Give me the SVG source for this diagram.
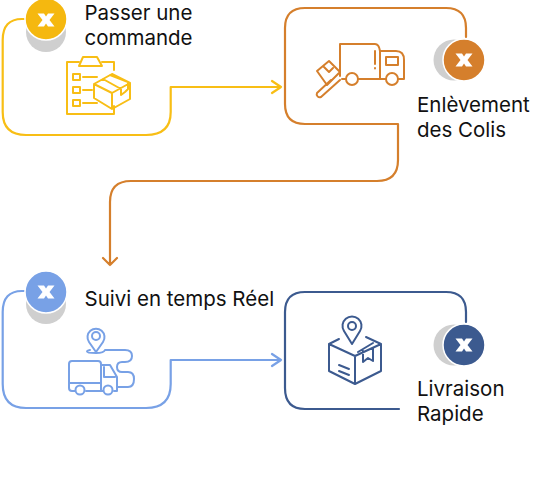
<svg xmlns="http://www.w3.org/2000/svg" width="533" height="481" viewBox="0 0 533 481">
<style>
text{font-family:Inter,"Liberation Sans",sans-serif;font-size:20.500px;fill:#111}
.c,.i{fill:none;stroke-linecap:round;stroke-linejoin:round}
.c{stroke-width:2.200}
.i{stroke-width:2}
.g{fill:#cfcfcf}
.w{fill:#fff}
.h{stroke:#fff;stroke-width:1.500}
.y{stroke:#f8be15}.o{stroke:#d57f2c}.b{stroke:#78a1e6}.n{stroke:#3c5a8f}
.f{fill:#fff}
</style>
<defs>
<path id="x" d="M-8.500-6.500H-2L0-3.500L2-6.500H8.500L3.500 0L8.500 6.500H2L0 3.500L-2 6.500H-8.500L-3.500 0Z"/>
</defs>
<g id="connectors">
<path class="c y" d="M24 19H22Q2.700 19 2.700 40V112Q2.700 135 26 135H146Q170.700 135 170.700 112V87H281M272 81L281 87L272 93"/>
<path class="c o" d="M466 37V28Q466 8 446 8H305Q285 8 285 28V104Q285 124 305 124H398V160Q398 181 377 181H131Q110 181 110 202V265M103 258L110 265L117 258"/>
<path class="c b" d="M24 291H22Q2.700 291 2.700 312V384Q2.700 408 26 408H146Q170.700 408 170.700 384V360H281M272 354L281 360L272 366"/>
<path class="c n" d="M466 322V312Q466 292 446 292H305Q285 292 285 312V388Q285 409 305 409H399"/>
</g>
<g id="node-commande">
<circle class="g" cx="46" cy="32" r="20"/><circle class="h" cx="46" cy="19" r="21" fill="#f5b80f"/><use href="#x" x="46" y="20" class="w"/>
<text x="84.500" y="19.500">Passer une</text><text x="84.500" y="44.500">commande</text>
<g class="i y">
<path d="M79 62H67V114H114V106M102 62H114V70"/>
<path d="M79 66L83 57H97L102 66Z"/>
<path d="M73 74h7v6h-7zM73 87h7v6h-7zM73 100h7v6h-7z"/>
<path d="M83 77H97M83 90H92M83 103H97"/>
<path d="M94 84L112 74L130 83V99L112 109L94 98ZM94 84L112 93L130 83M112 93V109M103 79L121 89V95L125 92L128 89V82L110 75"/>
</g></g>
<g id="node-enlevement">
<circle class="g" cx="454" cy="60" r="20.500"/><circle class="h" cx="464" cy="60" r="21" fill="#d57f2c"/><use href="#x" x="464" y="60" class="w"/>
<text x="417" y="112">Enlèvement</text><text x="417" y="137">des Colis</text>
<g class="i o">
<path d="M340 76V44H375Q379 44 380 51H396Q404 51 404 60V79H398M386 79H358M346 79H342M380 51V79"/>
<circle class="f" cx="352" cy="79" r="6"/><circle class="f" cx="392" cy="79" r="6"/>
<path d="M386 57H398V65H386ZM375 51V64M375 68V68.500"/>
<path d="M317 71L329 61L340 72L327 85ZM323 66L329 72L333 68M340 80L321 97A3 3 0 0 1 317 93L331 80"/>
</g></g>
<g id="node-suivi">
<circle class="g" cx="46" cy="304" r="20"/><circle class="h" cx="46" cy="292" r="21" fill="#78a1e6"/><use href="#x" x="46" y="292" class="w"/>
<text x="84.500" y="306">Suivi en temps Réel</text>
<g class="i b">
<path d="M96 352L89 342A8.500 8.500 0 1 1 103 342Z"/><circle cx="96" cy="336" r="4"/>
<path d="M90 350Q87 350.500 87 351.500Q87 353 96 353Q104 353 105 350H125Q132 350 132 356Q132 362 125 362H122Q117 362 117 367Q117 372 122 372H128Q134 372 134 379Q134 387 128 387H118"/>
<path d="M75 391H72Q69 391 69 388V364Q69 361 72 361H98Q101 361 101 364V391H86M101 365H110L117 377V391H114M102 391H103M69 383H101M104 367V377H115"/>
<circle class="f" cx="80" cy="390" r="4.500"/><circle class="f" cx="108" cy="390" r="4.500"/>
</g></g>
<g id="node-livraison">
<circle class="g" cx="454" cy="345" r="20.500"/><circle class="h" cx="464" cy="345" r="21" fill="#3c5a8f"/><use href="#x" x="464" y="345" class="w"/>
<text x="417" y="396">Livraison</text><text x="417" y="421">Rapide</text>
<g class="i n">
<path d="M352 344L344 331A9.500 9.500 0 1 1 360 331Z"/><circle cx="352" cy="326" r="4"/>
<path d="M339 339L329 344V371L355 384L381 371V344L366 337M329 344L355 356L381 344M355 356V384M358 352L373 343M363 351V362L368 358L373 361V348"/>
<path d="M339 365L349 369M339 371L349 375"/>
</g></g>
</svg>
